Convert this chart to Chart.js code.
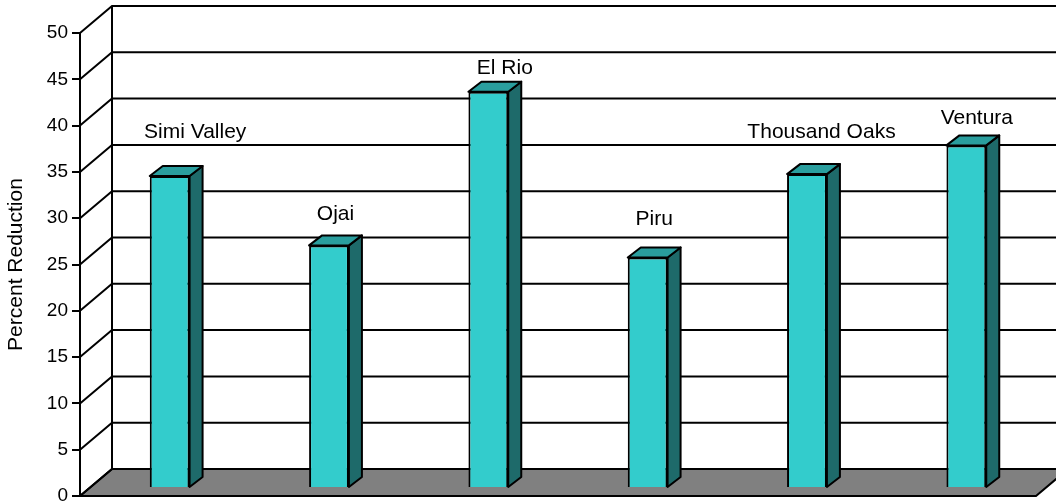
<!DOCTYPE html>
<html>
<head>
<meta charset="utf-8">
<title>Percent Reduction</title>
<script src="https://cdn.jsdelivr.net/npm/chart.js"></script>
<style>
  body { margin: 0; background: #fff; }
  #wrap { width: 1056px; height: 502px; }
</style>
</head>
<body>
<div id="wrap"><canvas id="myChart" width="1056" height="502"></canvas></div>
<script>
const cities = ['Simi Valley', 'Ojai', 'El Rio', 'Piru', 'Thousand Oaks', 'Ventura'];
const reduction = [33.7, 26.2, 42.8, 24.9, 33.9, 37.0];
const yTicks = [0, 5, 10, 15, 20, 25, 30, 35, 40, 45, 50];

const FONT = "'Liberation Sans', Arial, sans-serif";
const wall = { dx: 32, dy: -27 };      // back wall offset
const barShift = { dx: 10, dy: -8 };   // bar front plane offset
const barDepth = { dx: 13, dy: -10 };
// hand placed label nudges, relative to top-back centre of each bar
const labelNudge = [[19, -28], [0, -15], [10, -8], [0, -22], [8, -26], [4, -11]];

const fake3d = {
  id: 'fake3d',
  beforeDatasetsDraw(chart) {
    const ctx = chart.ctx, area = chart.chartArea, y = chart.scales.y;
    const x0 = area.left, x1 = area.right;
    ctx.save();
    ctx.lineWidth = 2;
    ctx.strokeStyle = '#000';
    // floor
    const b = y.getPixelForValue(0);
    ctx.beginPath();
    ctx.moveTo(x0, b);
    ctx.lineTo(x1, b);
    ctx.lineTo(x1 + wall.dx, b + wall.dy);
    ctx.lineTo(x0 + wall.dx, b + wall.dy);
    ctx.closePath();
    ctx.fillStyle = '#808080';
    ctx.fill();
    ctx.stroke();
    // side diagonals and back wall lines
    yTicks.forEach(v => {
      const py = y.getPixelForValue(v);
      ctx.beginPath();
      ctx.moveTo(x0, py);
      ctx.lineTo(x0 + wall.dx, py + wall.dy);
      ctx.lineTo(chart.width + 40, py + wall.dy);
      ctx.stroke();
    });
    ctx.beginPath();
    ctx.moveTo(x0 + wall.dx, y.getPixelForValue(50) + wall.dy);
    ctx.lineTo(x0 + wall.dx, b + wall.dy);
    ctx.stroke();
    ctx.restore();
    // bars sit a little behind the front plane
    ctx.save();
    ctx.translate(barShift.dx, barShift.dy);
  },
  afterDatasetsDraw(chart) {
    const ctx = chart.ctx;
    const bars = chart.getDatasetMeta(0).data;
    ctx.lineWidth = 2;
    ctx.strokeStyle = '#000';
    ctx.lineJoin = 'round';
    bars.forEach(bar => {
      const p = bar.getProps(['x', 'y', 'base', 'width'], true);
      const l = p.x - p.width / 2, r = p.x + p.width / 2;
      // side
      ctx.beginPath();
      ctx.moveTo(r, p.y);
      ctx.lineTo(r + barDepth.dx, p.y + barDepth.dy);
      ctx.lineTo(r + barDepth.dx, p.base + barDepth.dy);
      ctx.lineTo(r, p.base);
      ctx.closePath();
      ctx.fillStyle = '#1E6A6A';
      ctx.fill();
      ctx.stroke();
      // top
      ctx.beginPath();
      ctx.moveTo(l, p.y);
      ctx.lineTo(l + barDepth.dx, p.y + barDepth.dy);
      ctx.lineTo(r + barDepth.dx, p.y + barDepth.dy);
      ctx.lineTo(r, p.y);
      ctx.closePath();
      ctx.fillStyle = '#2A9E9E';
      ctx.fill();
      ctx.stroke();
    });
    ctx.restore();
    // category labels
    ctx.save();
    ctx.font = '21px ' + FONT;
    ctx.fillStyle = '#000';
    ctx.textAlign = 'center';
    ctx.textBaseline = 'alphabetic';
    bars.forEach((bar, i) => {
      const p = bar.getProps(['x', 'y'], true);
      const ax = p.x + barShift.dx + barDepth.dx / 2;
      const ay = p.y + barShift.dy + barDepth.dy;
      ctx.fillText(cities[i], ax + labelNudge[i][0], ay + labelNudge[i][1]);
    });
    ctx.restore();
  }
};

new Chart(document.getElementById('myChart').getContext('2d'), {
  type: 'bar',
  data: {
    labels: cities,
    datasets: [{
      data: reduction,
      backgroundColor: '#33CCCC',
      borderColor: '#000',
      borderWidth: 2,
      categoryPercentage: 1,
      barPercentage: 0.25
    }]
  },
  options: {
    responsive: false,
    animation: false,
    layout: { padding: { top: 33, right: 20, bottom: 6, left: 0 } },
    plugins: { legend: { display: false }, tooltip: { enabled: false } },
    scales: {
      x: { display: false },
      y: {
        min: 0,
        max: 50,
        ticks: { stepSize: 5, color: '#000', padding: 4, font: { size: 19, family: FONT } },
        grid: { display: true, drawOnChartArea: false, drawTicks: true, tickLength: 8, color: '#000', lineWidth: 2 },
        border: { display: true, color: '#000', width: 2 },
        title: { display: true, text: 'Percent Reduction', color: '#000', font: { size: 21, family: FONT }, padding: { top: 4, bottom: 4 } },
        afterFit(s) {
          s.width = 80;
          s.paddingTop = 0;
          s.paddingBottom = 0;
        }
      }
    }
  },
  plugins: [fake3d]
});
</script>
</body>
</html>
